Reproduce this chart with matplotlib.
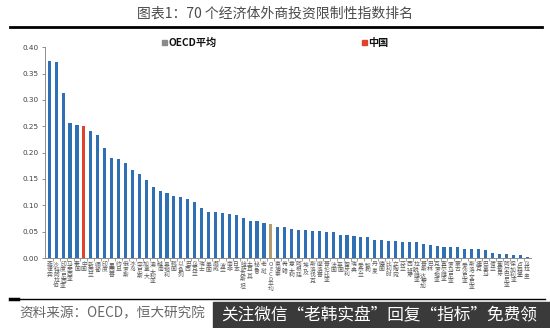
import matplotlib
matplotlib.use("Agg")
import matplotlib.pyplot as plt
from matplotlib.patches import Rectangle
from matplotlib.lines import Line2D

plt.rcParams['font.family'] = ['Noto Sans CJK SC', 'DejaVu Sans']

economies = [
    "菲律宾", "沙特阿拉伯", "印度尼西亚", "马来西亚", "泰国", "中国", "新西兰", "缅甸",
    "印度", "墨西哥", "约旦", "俄罗斯", "冰岛", "突尼斯", "加拿大", "澳大利亚",
    "越南", "奥地利", "韩国", "以色列", "巴西", "乌克兰", "瑞士", "美国",
    "挪威", "波兰", "南非", "日本", "哈萨克斯坦", "土耳其", "秘鲁", "老挝",
    "OECD平均", "柬埔寨", "希腊", "意大利", "阿根廷", "埃及", "斯洛伐克", "摩洛哥",
    "哥伦比亚", "法国", "英国", "匈牙利", "瑞典", "爱尔兰", "智利", "丹麦",
    "德国", "比利时", "立陶宛", "芬兰", "西班牙", "拉脱维亚", "哥斯达黎加", "巴林",
    "克罗地亚", "塞尔维亚", "罗马尼亚", "蒙古", "爱沙尼亚", "斯洛文尼亚", "捷克", "巴拿马",
    "荷兰", "葡萄牙", "阿尔巴尼亚", "保加利亚", "卢森堡", "乌拉圭",
]

index_values = [
    0.374, 0.372, 0.313, 0.256, 0.252, 0.250, 0.242, 0.234,
    0.208, 0.189, 0.187, 0.180, 0.167, 0.160, 0.148, 0.134,
    0.128, 0.123, 0.117, 0.115, 0.112, 0.106, 0.094, 0.088,
    0.087, 0.085, 0.084, 0.082, 0.076, 0.070, 0.070, 0.066,
    0.064, 0.058, 0.058, 0.055, 0.054, 0.054, 0.051, 0.051,
    0.049, 0.049, 0.044, 0.043, 0.041, 0.039, 0.039, 0.034,
    0.034, 0.032, 0.032, 0.031, 0.030, 0.030, 0.026, 0.025,
    0.023, 0.021, 0.021, 0.020, 0.018, 0.018, 0.018, 0.015,
    0.010, 0.008, 0.007, 0.005, 0.005, 0.002,
]

y_ticks = [0.00, 0.05, 0.10, 0.15, 0.20, 0.25, 0.30, 0.35, 0.40]

BLUE = "#2f6fb3"
RED = "#e0422c"
TAN = "#b59a72"
GREY_KEY = "#8a8a8a"

colors = []
for name in economies:
    if name == "中国":
        colors.append(RED)
    elif name == "OECD平均":
        colors.append(TAN)
    else:
        colors.append(BLUE)

fig = plt.figure(figsize=(5.5, 3.28), dpi=100)
fig.patch.set_facecolor("white")

ax = fig.add_axes([0.0818, 0.2134, 0.8832, 0.6424])
x = list(range(len(economies)))
ax.bar(x, index_values, width=0.45, color=colors, zorder=2)

ax.set_xlim(-0.62, len(economies) - 0.47)
ax.set_ylim(0, 0.40)
ax.set_yticks(y_ticks)
ax.set_yticklabels([f"{v:.2f}" for v in y_ticks], fontsize=5.2, color="#404040",
                   family="DejaVu Sans")
ax.tick_params(axis="y", length=2.5, width=0.6, color="#7f7f7f", pad=2)

ax.set_xticks(x)
ax.set_xticklabels(["\n".join(n) if n != "OECD平均" else "O\nE\nC\nD\n平\n均"
                    for n in economies],
                   fontsize=4.2, color="#5a5a5a", linespacing=1.0, va="top")
ax.tick_params(axis="x", which="major", length=0, pad=3)
ax.set_xticks([i + 0.5 for i in x[:-1]], minor=True)
ax.tick_params(axis="x", which="minor", length=2.5, width=0.5, color="#7f7f7f")

for side in ("top", "right"):
    ax.spines[side].set_visible(False)
for side in ("left", "bottom"):
    ax.spines[side].set_color("#8c8c8c")
    ax.spines[side].set_linewidth(0.7)

# title and rules
fig.text(0.5, 0.957, "图表1：70 个经济体外商投资限制性指数排名", ha="center", va="center",
         fontsize=10, color="#4a4a4a")
fig.add_artist(Line2D([0.018, 0.985], [0.918, 0.918], color="black", lw=2.0))

# legend keys
fig.add_artist(Rectangle((0.2945, 0.862), 0.0095, 0.016, color=GREY_KEY, transform=fig.transFigure))
fig.text(0.307, 0.869, "OECD平均", ha="left", va="center", fontsize=7.3,
         fontweight="bold", color="#111111")
fig.add_artist(Rectangle((0.6575, 0.862), 0.0095, 0.016, color=RED, transform=fig.transFigure))
fig.text(0.670, 0.869, "中国", ha="left", va="center", fontsize=7.3,
         fontweight="bold", color="#111111")

# bottom rule and source
fig.add_artist(Line2D([0.018, 0.99], [0.088, 0.088], color="black", lw=1.0))
fig.add_artist(Line2D([0.018, 0.032], [0.088, 0.088], color="black", lw=2.5))
fig.text(0.036, 0.045, "资料来源：OECD，恒大研究院", ha="left", va="center",
         fontsize=9.8, color="#666666", style="italic")

# dark banner in the lower right corner
fig.add_artist(Rectangle((0.388, 0.0), 0.612, 0.08, color="#3a3a3a",
                         transform=fig.transFigure, zorder=5))
fig.text(0.402, 0.038, "关注微信“老韩实盘”回复“指标”免费领", ha="left", va="center",
         fontsize=12, color="white", zorder=6)

fig.savefig("out.png", dpi=100, facecolor="white")
